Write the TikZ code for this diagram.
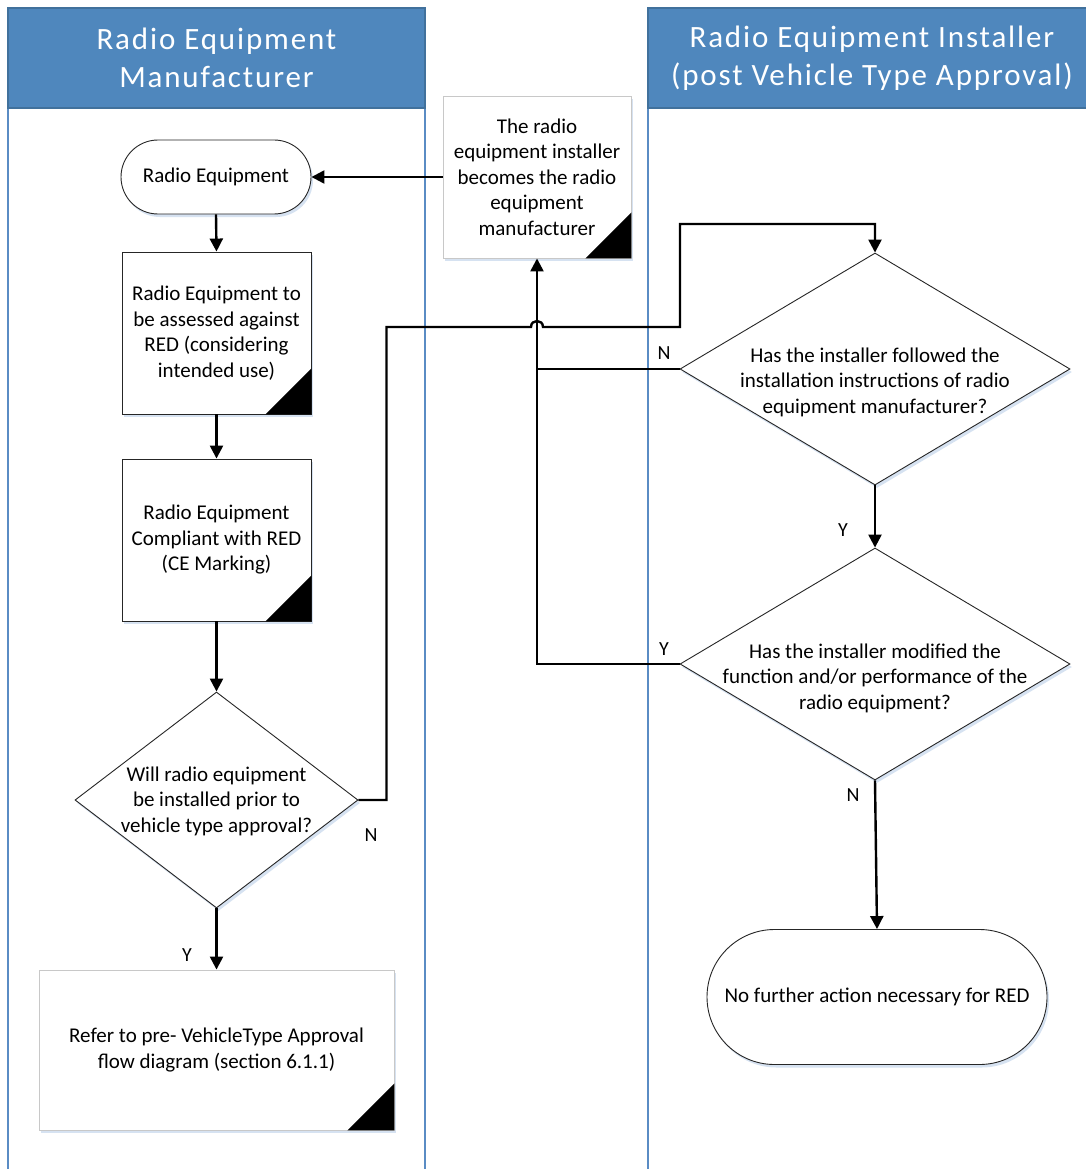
\documentclass[tikz,border=0pt]{standalone}
\usepackage{fontspec}
\setmainfont{Carlito}
\usetikzlibrary{arrows.meta,shapes.geometric,shapes.misc,shadows,calc}
\definecolor{hdr}{HTML}{4F87BD}
\definecolor{hdrb}{HTML}{41719C}
\definecolor{lanec}{HTML}{5A8CC4}
\definecolor{glow}{HTML}{C5D7EC}
\definecolor{lbord}{HTML}{C8C8C8}
\newcommand\cornertri[2]{\fill[black] (#1.south east) -- ++(-#2,0) -- ++(#2,-#2) -- cycle;}
\begin{document}
\begin{tikzpicture}[x=1pt,y=-1pt,
  txt/.style={font=\fontsize{21}{25.5}\selectfont, align=center, inner sep=0pt},
  lbl/.style={font=\fontsize{20}{24}\selectfont, inner sep=0pt},
  hdrtxt/.style={font=\fontsize{31}{38}\selectfont\addfontfeature{LetterSpace=6}, text=white, align=center},
  shad/.style={drop shadow={shadow xshift=2pt, shadow yshift=-3pt, fill=glow, opacity=0.7}},
  procbox/.style={txt, draw=black!85, line width=0.9pt, fill=white, shad},
  lightbox/.style={txt, draw=lbord, line width=0.9pt, fill=white, shad},
  term/.style={txt, rounded rectangle, draw=black!85, line width=0.9pt, fill=white, shad},
  decision/.style={diamond, draw=black!85, line width=0.9pt, fill=white, inner sep=0pt, shad},
  conn/.style={line width=2.4pt, -{Triangle[width=13pt,length=13pt]}},
  plain/.style={line width=2.4pt},
  lanebord/.style={draw=lanec, line width=1.6pt},
]
\useasboundingbox (0,0) rectangle (1086,1169);
\clip (0,0) rectangle (1086,1169);
\fill[white] (0,0) rectangle (1086,1169);

% lanes
\draw[lanebord] (8,8) -- (8,1180);
\draw[lanebord] (425,8) -- (425,1180);
\draw[lanebord] (648,8) -- (648,1180);
\draw[lanebord] (1096,8) -- (1096,1180);
\filldraw[fill=hdr, draw=hdrb, line width=1.5pt] (8,8) rectangle (425,108);
\filldraw[fill=hdr, draw=hdrb, line width=1.5pt] (648,8) rectangle (1096,108);
\node[hdrtxt] (h1) at (216.5,58) {Radio Equipment\\Manufacturer};
\node[hdrtxt] (h2) at (872,58) {Radio Equipment Installer\\(post Vehicle Type Approval)};

% left lane nodes
\node[term, minimum width=190pt, minimum height=74pt] (t1) at (216,177) {Radio Equipment};
\node[procbox, minimum width=189pt, minimum height=162pt] (b1) at (216.5,333) {Radio Equipment to\\be assessed against\\RED (considering\\intended use)};
\cornertri{b1}{46}
\node[procbox, minimum width=189pt, minimum height=162pt] (b2) at (216.5,540) {Radio Equipment\\Compliant with RED\\(CE Marking)};
\cornertri{b2}{46}
\node[decision, minimum width=283pt, minimum height=216pt] (d1) at (216.5,800) {};
\node[txt] (d1t) at (216.5,801) {Will radio equipment\\be installed prior to\\vehicle type approval?};
\node[lightbox, minimum width=355pt, minimum height=160pt] (b3) at (216.5,1050) {Refer to pre- VehicleType Approval\\flow diagram (section 6.1.1)};
\cornertri{b3}{47}

% middle
\node[lightbox, minimum width=188pt, minimum height=162pt] (mid) at (537,177) {The radio\\equipment installer\\becomes the radio\\equipment\\manufacturer};
\cornertri{mid}{46}

% right lane nodes
\node[decision, minimum width=390pt, minimum height=232pt] (d2) at (875,369) {};
\node[txt] (d2t) at (875,382) {Has the installer followed the\\installation instructions of radio\\equipment manufacturer?};
\node[decision, minimum width=390pt, minimum height=232pt] (d3) at (875,664) {};
\node[txt] (d3t) at (875,678) {Has the installer modified the\\function and/or performance of the\\radio equipment?};
\node[term, minimum width=340pt, minimum height=135pt] (t2) at (877,997) {No further action necessary for RED};

% connectors
\draw[conn] (mid.west) -- (t1.east);
\draw[conn] (t1.south) -- (b1.north);
\draw[conn] (b1.south) -- (b2.north);
\draw[conn] (b2.south) -- (d1.north);
\draw[conn] (d1.south) -- (b3.north);
\draw[conn] (d1.east) -- ++(28,0) |- (531,327) .. controls (531,319) and (543,319) .. (543,327) -- (680,327) |- (875,224) -- (d2.north);
\draw[plain] (d2.west) -- (537,369);
\draw[conn] (d3.west) -| (mid.south);
\draw[conn] (d2.south) -- (d3.north);
\draw[conn] (d3.south) -- (t2.north);

% labels
\node[lbl] (ly1) at (187,955) {Y};
\node[lbl] (ln1) at (371,835) {N};
\node[lbl] (ln2) at (664,353) {N};
\node[lbl] (ly2) at (664,649) {Y};
\node[lbl] (ly3) at (843,530) {Y};
\node[lbl] (ln3) at (853,795) {N};
\end{tikzpicture}
\end{document}
